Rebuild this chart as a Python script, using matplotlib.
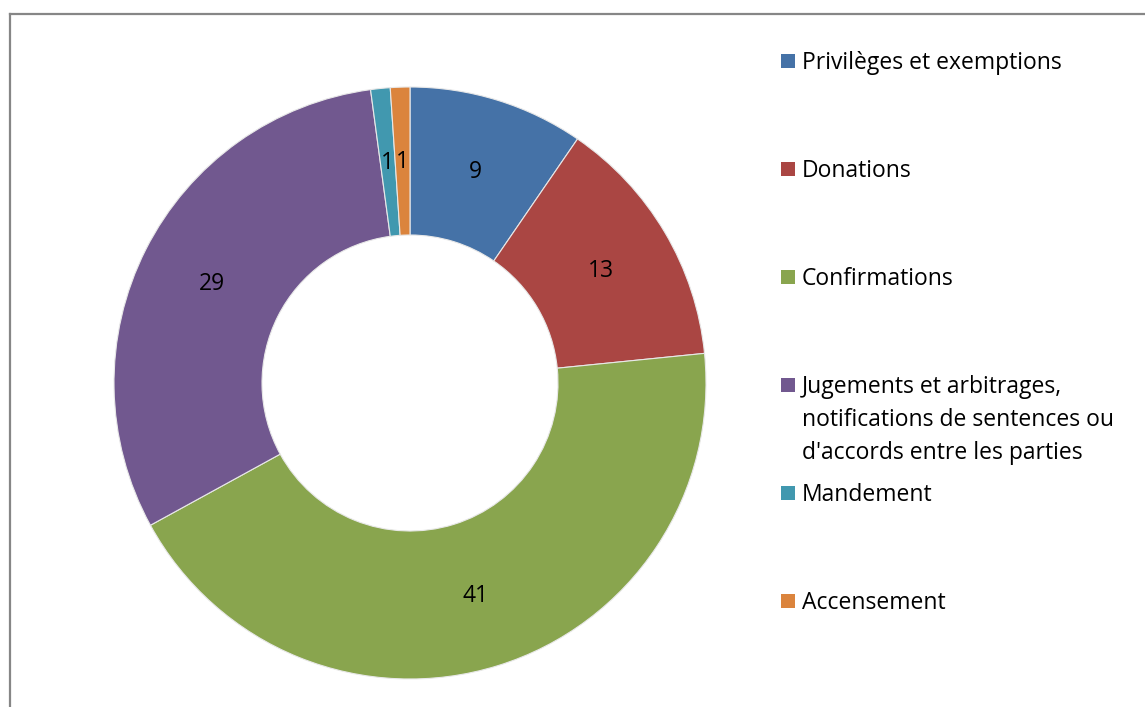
import matplotlib
matplotlib.use("Agg")
import matplotlib.pyplot as plt
from matplotlib.patches import Rectangle
from matplotlib.lines import Line2D
import numpy as np

categories = ["Privilèges et exemptions", "Donations", "Confirmations",
              "Jugements et arbitrages,\nnotifications de sentences ou\nd'accords entre les parties",
              "Mandement", "Accensement"]
values = [9, 13, 41, 29, 1, 1]
colors = ["#4572A7", "#AA4643", "#89A54E", "#71588F", "#4198AF", "#DB843D"]

W, H = 1145, 707
fig = plt.figure(figsize=(W / 100, H / 100), dpi=100)
plt.rcParams['font.family'] = ['Open Sans', 'DejaVu Sans']
FS = 16.5

cx, cy, R = 410, 383, 296
ax = fig.add_axes([(cx - R) / W, (H - cy - R) / H, 2 * R / W, 2 * R / H])
wedges, _ = ax.pie(values, colors=colors, startangle=90, counterclock=False,
                   radius=1.0, wedgeprops=dict(width=0.5, edgecolor="#e8e8e8", linewidth=0.8))
total = sum(values)
cum = 0
for v in values:
    mid = 90 - (cum + v / 2) / total * 360
    cum += v
    r = 0.75
    ax.text(r * np.cos(np.radians(mid)), r * np.sin(np.radians(mid)) - 0.004, str(v),
            ha="center", va="center", fontsize=FS, color="black")
ax.set_xlim(-1, 1)
ax.set_ylim(-1, 1)
ax.axis("off")

# legend (manual, Excel-style)
leg_y = [61, 169, 277, 385, 493, 601]
for cat, col, y in zip(categories, colors, leg_y):
    fig.patches.append(Rectangle((781 / W, (H - y - 7) / H), 14 / W, 14 / H,
                                 transform=fig.transFigure, facecolor=col, edgecolor="none"))
    n = cat.count("\n")
    fig.text(802 / W, (H - y - 2 - n * 33 / 2) / H, cat, ha="left", va="center",
             fontsize=FS, linespacing=1.5)

# frame
fig.add_artist(Line2D([9.5 / W, 9.5 / W], [0, (H - 13.5) / H], color="#868686", lw=1.6,
                      transform=fig.transFigure))
fig.add_artist(Line2D([9.5 / W, 1], [(H - 13.5) / H, (H - 13.5) / H], color="#868686", lw=1.6,
                      transform=fig.transFigure))

fig.savefig("out.png", dpi=100, facecolor="white")
